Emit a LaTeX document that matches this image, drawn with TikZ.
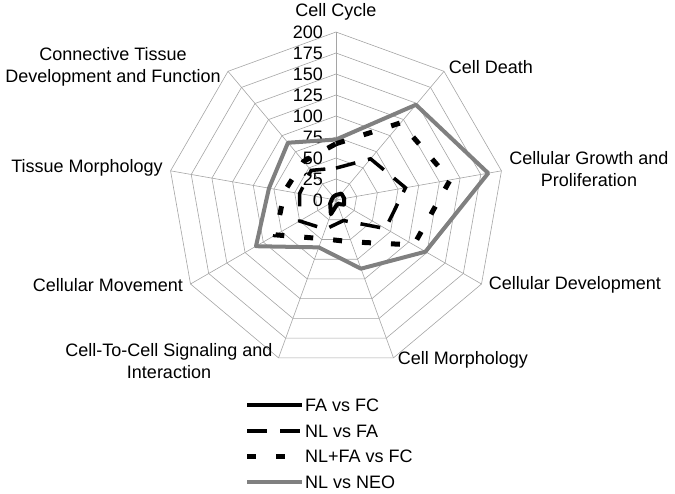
\documentclass[tikz,border=0pt]{standalone}
\usepackage{fontspec}
\setmainfont{Liberation Sans}
\usetikzlibrary{positioning}
\definecolor{gridgray}{RGB}{165,165,165}
\definecolor{neogray}{RGB}{128,128,128}
\tikzset{
  gridline/.style={draw=gridgray, line width=0.6pt},
  axislabel/.style={font=\fontsize{18}{22}\selectfont, align=center, inner sep=0pt},
  ticklabel/.style={font=\fontsize{18}{22}\selectfont, anchor=east, inner sep=0pt},
  legendtext/.style={font=\fontsize{18}{22}\selectfont, inner sep=0pt},
  fafc/.style={line width=4pt, black, line join=round},
  nlfa/.style={line width=3.5pt, black, dash pattern=on 20pt off 13pt},
  nlfafc/.style={line width=5pt, black, dash pattern=on 9pt off 20pt},
  nlneo/.style={line width=4pt, neogray, line join=round},
}
\begin{document}
\begin{tikzpicture}[x=1pt,y=1pt]
  \useasboundingbox (0,0) rectangle (675,-493);
  \begin{scope}[shift={(336,-200)}]
    % rings and spokes
    \foreach \r in {25,50,...,200}
      \draw[gridline] (90:{0.84*\r}) \foreach \i in {1,...,8}{ -- ({90-40*\i}:{0.84*\r})} -- cycle;
    \foreach \i in {0,...,8}
      \draw[gridline] (0,0) -- ({90-40*\i}:168);
    % scale
    \foreach \t in {0,25,...,200}
      \node[ticklabel] (t\t) at (-13,{0.84*\t}) {\t};
    % series
    \foreach \v [count=\i from 0] in {72,148,184,123,87,60,110,81,89}
      \coordinate (neo\i) at ({90-40*\i}:{0.84*\v});
    \foreach \v [count=\i from 0] in {67,120,138,107,53,49,83,62,60}
      \coordinate (nff\i) at ({90-40*\i}:{0.84*\v});
    \foreach \v [count=\i from 0] in {38,64,84,68,26,37,50,44,46}
      \coordinate (nfa\i) at ({90-40*\i}:{0.84*\v});
    \foreach \v [count=\i from 0] in {6,10,10,11,5,18,8,5,5}
      \coordinate (ffc\i) at ({90-40*\i}:{0.84*\v});
    \draw[nlneo] (neo0) -- (neo1) -- (neo2) -- (neo3) -- (neo4) -- (neo5) -- (neo6) -- (neo7) -- (neo8) -- cycle;
    \draw[nlfafc] (nff0) -- (nff1) -- (nff2) -- (nff3) -- (nff4) -- (nff5) -- (nff6) -- (nff7) -- (nff8) -- cycle;
    \draw[nlfa] (nfa0) -- (nfa1) -- (nfa2) -- (nfa3) -- (nfa4) -- (nfa5) -- (nfa6) -- (nfa7) -- (nfa8) -- cycle;
    \draw[fafc] (ffc0) -- (ffc1) -- (ffc2) -- (ffc3) -- (ffc4) -- (ffc5) -- (ffc6) -- (ffc7) -- (ffc8) -- cycle;
  \end{scope}
  % category labels
  \node[axislabel] (cycle) at (336,-12) {Cell Cycle};
  \node[axislabel] (death) at (491,-67) {Cell Death};
  \node[axislabel] (growth) at (589,-169) {Cellular Growth and\\Proliferation};
  \node[axislabel] (develop) at (575,-285) {Cellular Development};
  \node[axislabel] (morph) at (463,-360) {Cell Morphology};
  \node[axislabel] (signal) at (169,-361) {Cell-To-Cell Signaling and\\Interaction};
  \node[axislabel] (movement) at (108,-285) {Cellular Movement};
  \node[axislabel] (tissue) at (87,-168) {Tissue Morphology};
  \node[axislabel] (connective) at (113,-67) {Connective Tissue\\Development and Function};
  % legend
  \coordinate (ka) at (247,-405); \coordinate (kb) at (302,-405);
  \coordinate (la) at (247,-431); \coordinate (lb) at (302,-431);
  \coordinate (ma) at (247,-456); \coordinate (mb) at (302,-456);
  \coordinate (na) at (247,-482); \coordinate (nb) at (302,-482);
  \draw[fafc] (ka) -- (kb);
  \draw[nlfa] (la) -- (lb);
  \draw[nlfafc] (ma) -- (mb);
  \draw[nlneo] (na) -- (nb);
  \node[legendtext, right=3pt of kb] (key1) {FA vs FC};
  \node[legendtext, right=3pt of lb] (key2) {NL vs FA};
  \node[legendtext, right=3pt of mb] (key3) {NL+FA vs FC};
  \node[legendtext, right=3pt of nb] (key4) {NL vs NEO};
\end{tikzpicture}
\end{document}
